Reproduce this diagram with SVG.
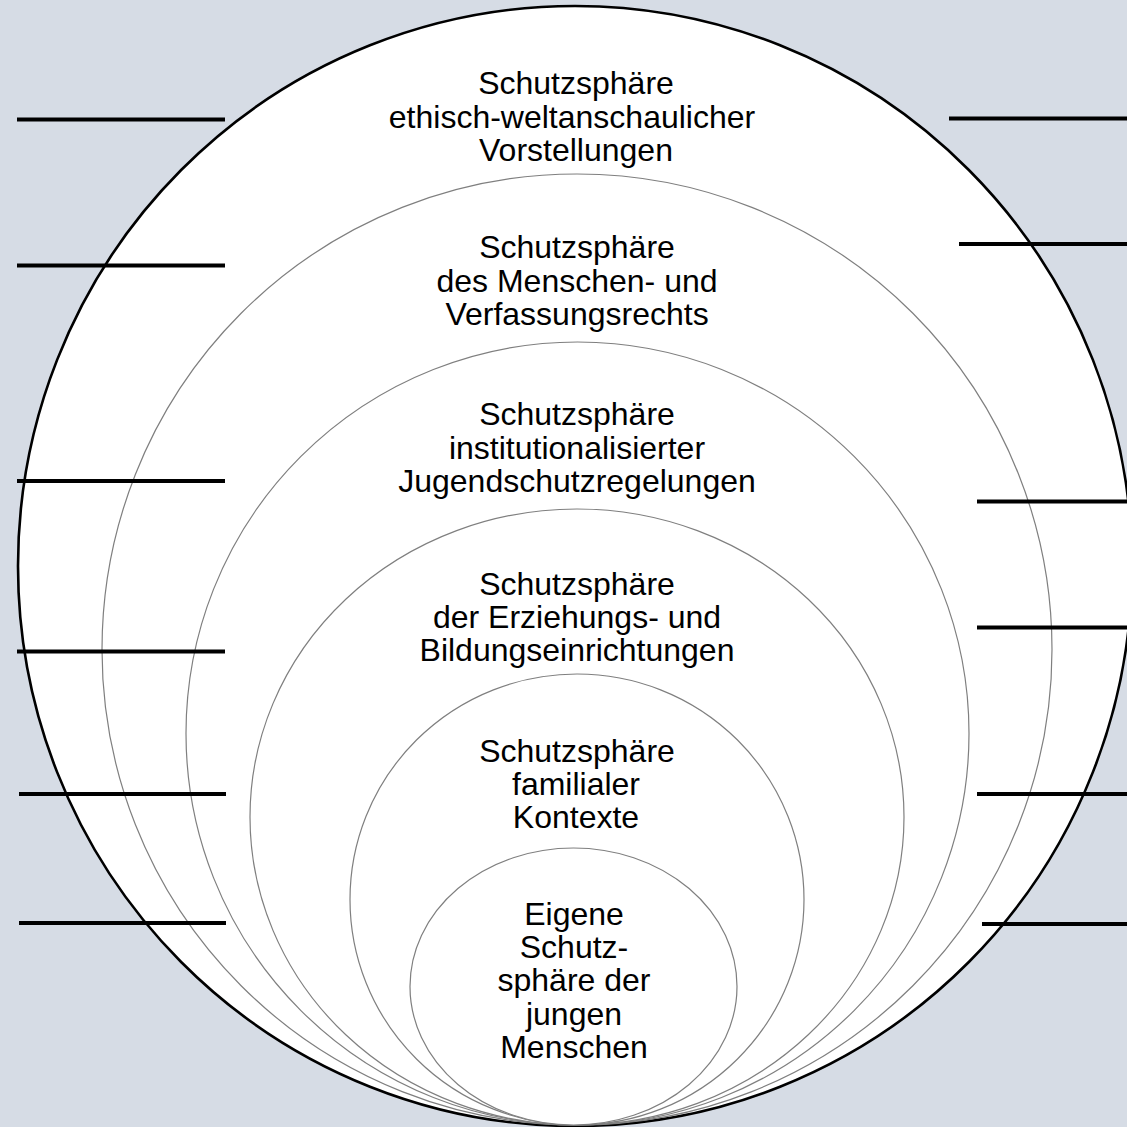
<svg xmlns="http://www.w3.org/2000/svg" width="1127" height="1127" viewBox="0 0 1127 1127">
<style>
.ring{fill:#ffffff;stroke:#7f7f7f;stroke-width:1.2}
.outer{fill:#ffffff;stroke:#000000;stroke-width:2.6}
.lbl{font-family:"Liberation Sans",Arial,sans-serif;font-size:32px;fill:#000000;text-anchor:middle}
.bar{stroke:#000000;stroke-width:4;fill:none}
</style>
<rect x="0" y="0" width="1127" height="1127" fill="#d6dce5"/>
<g id="sphere-ethisch">
<ellipse class="outer" cx="575" cy="566" rx="557" ry="560"/>
<text class="lbl" x="576" y="94">Schutzsphäre</text>
<text class="lbl" x="572" y="128">ethisch-weltanschaulicher</text>
<text class="lbl" x="576" y="161">Vorstellungen</text>
</g>
<g id="sphere-menschenrecht">
<ellipse class="ring" cx="577" cy="649.5" rx="475" ry="475.5"/>
<text class="lbl" x="577" y="258">Schutzsphäre</text>
<text class="lbl" x="577" y="292">des Menschen- und</text>
<text class="lbl" x="577" y="325">Verfassungsrechts</text>
</g>
<g id="sphere-jugendschutz">
<ellipse class="ring" cx="577.5" cy="733.5" rx="391.5" ry="391.5"/>
<text class="lbl" x="577" y="425">Schutzsphäre</text>
<text class="lbl" x="577" y="459">institutionalisierter</text>
<text class="lbl" x="577" y="492">Jugendschutzregelungen</text>
</g>
<g id="sphere-erziehung">
<ellipse class="ring" cx="577" cy="817" rx="327" ry="308"/>
<text class="lbl" x="577" y="595">Schutzsphäre</text>
<text class="lbl" x="577" y="628">der Erziehungs- und</text>
<text class="lbl" x="577" y="661">Bildungseinrichtungen</text>
</g>
<g id="sphere-familie">
<ellipse class="ring" cx="577" cy="899.5" rx="227" ry="225.5"/>
<text class="lbl" x="577" y="762">Schutzsphäre</text>
<text class="lbl" x="576" y="795">familialer</text>
<text class="lbl" x="576" y="828">Kontexte</text>
</g>
<g id="sphere-eigene">
<ellipse class="ring" cx="573.5" cy="986.5" rx="163.5" ry="138.5"/>
<text class="lbl" x="574" y="925">Eigene</text>
<text class="lbl" x="574" y="958">Schutz-</text>
<text class="lbl" x="574" y="991">sphäre der</text>
<text class="lbl" x="574" y="1025">jungen</text>
<text class="lbl" x="574" y="1058">Menschen</text>
</g>
<g id="connectors">
<line class="bar" x1="17" y1="119.5" x2="225" y2="119.5"/>
<line class="bar" x1="17" y1="265.5" x2="225" y2="265.5"/>
<line class="bar" x1="17" y1="481" x2="225" y2="481"/>
<line class="bar" x1="17" y1="651.5" x2="225" y2="651.5"/>
<line class="bar" x1="19" y1="794" x2="226" y2="794"/>
<line class="bar" x1="19" y1="923" x2="226" y2="923"/>
<line class="bar" x1="949" y1="118.5" x2="1127" y2="118.5"/>
<line class="bar" x1="959" y1="244" x2="1127" y2="244"/>
<line class="bar" x1="977" y1="501.5" x2="1127" y2="501.5"/>
<line class="bar" x1="977" y1="627.5" x2="1127" y2="627.5"/>
<line class="bar" x1="977" y1="794" x2="1127" y2="794"/>
<line class="bar" x1="982" y1="924" x2="1127" y2="924"/>
</g>
</svg>
